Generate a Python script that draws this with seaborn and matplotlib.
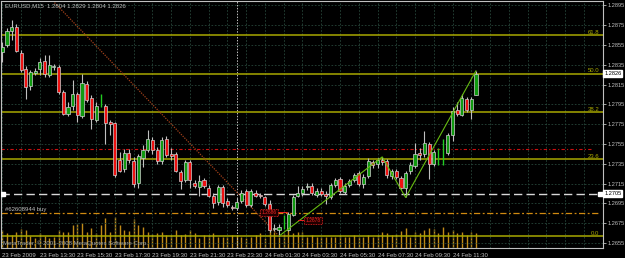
import matplotlib
matplotlib.use("Agg")
import matplotlib.pyplot as plt
from matplotlib.transforms import blended_transform_factory
import seaborn as sns
import numpy as np
import pandas as pd

# ---------------- data ----------------
chart_title = "EURUSD,M15  1.2804 1.2829 1.2804 1.2826"
order_label = "#62608944 buy"
copyright_text = "MetaTrader, \u00a9 2001-2008 MetaQuotes Software Corp."

opens = [1.2848,1.2855,1.2869,1.2873,1.2847,1.2831,1.2814,1.2827,1.2831,1.2839,
         1.2825,1.2833,1.2833,1.2808,1.2785,1.2793,1.2805,1.2783,1.2816,1.2801,
         1.2779,1.2792,1.2793,1.2777,1.2776,1.2739,1.2730,1.2746,1.2738,1.2716,
         1.2741,1.2749,1.2759,1.2749,1.2738,1.2760,1.2745,1.2745,1.2727,1.2719,
         1.2737,1.2716,1.2712,1.2719,1.2711,1.2703,1.2696,1.2712,1.2697,1.2691,
         1.2690,1.2697,1.2708,1.2693,1.2706,1.2704,1.2701,1.2694,1.2669,1.2668,
         1.2669,1.2668,1.2683,1.2703,1.2706,1.2712,1.2713,1.2704,1.2708,1.2705,
         1.2701,1.2714,1.2720,1.2707,1.2714,1.2719,1.2726,1.2715,1.2723,1.2737,
         1.2735,1.2739,1.2738,1.2723,1.2728,1.2721,1.2711,1.2728,1.2733,1.2746,
         1.2745,1.2755,1.2735,1.2734,1.2734,1.2746,1.2764,1.2789,1.2784,1.2800,
         1.2789,1.2804]
highs = [1.2858,1.2872,1.2880,1.2876,1.2850,1.2834,1.2830,1.2832,1.2842,1.2845,
         1.2845,1.2836,1.2835,1.2810,1.2797,1.2820,1.2808,1.2826,1.2819,1.2804,
         1.2797,1.2806,1.2795,1.2779,1.2777,1.2747,1.2750,1.2750,1.2742,1.2745,
         1.2754,1.2769,1.2762,1.2752,1.2762,1.2763,1.2751,1.2747,1.2729,1.2739,
         1.2739,1.2719,1.2724,1.2721,1.2714,1.2706,1.2714,1.2714,1.2700,1.2693,
         1.2700,1.2709,1.2710,1.2710,1.2709,1.2706,1.2703,1.2698,1.2674,1.2674,
         1.2683,1.2686,1.2704,1.2713,1.2713,1.2716,1.2716,1.2711,1.2711,1.2708,
         1.2716,1.2721,1.2722,1.2716,1.2720,1.2726,1.2728,1.2725,1.2741,1.2739,
         1.2741,1.2742,1.2740,1.2730,1.2730,1.2723,1.2728,1.2737,1.2756,1.2751,
         1.2768,1.2757,1.2749,1.2751,1.2760,1.2766,1.2792,1.2797,1.2806,1.2802,
         1.2802,1.2829]
lows = [1.2838,1.2853,1.2860,1.2848,1.2828,1.2800,1.2810,1.2825,1.2825,1.2823,
        1.2823,1.2830,1.2805,1.2784,1.2783,1.2789,1.2777,1.2781,1.2797,1.2770,
        1.2777,1.2792,1.2755,1.2764,1.2722,1.2727,1.2727,1.2736,1.2712,1.2711,
        1.2732,1.2747,1.2745,1.2735,1.2735,1.2742,1.2739,1.2727,1.2710,1.2717,
        1.2711,1.2711,1.2703,1.2711,1.2701,1.2690,1.2693,1.2691,1.2691,1.2688,
        1.2688,1.2695,1.2691,1.2691,1.2701,1.2700,1.2692,1.2666,1.2667,1.2662,
        1.2669,1.2667,1.2682,1.2701,1.2703,1.2709,1.2704,1.2702,1.2703,1.2694,
        1.2699,1.2712,1.2706,1.2705,1.2712,1.2717,1.2713,1.2711,1.2721,1.2731,
        1.2731,1.2734,1.2721,1.2720,1.2720,1.2710,1.2701,1.2725,1.2731,1.2739,
        1.2742,1.2720,1.2733,1.2734,1.2734,1.2744,1.2758,1.2783,1.2783,1.2787,
        1.2780,1.2804]
closes = [1.2853,1.2869,1.2873,1.2849,1.2830,1.2813,1.2828,1.2829,1.2838,1.2826,
          1.2835,1.2833,1.2808,1.2785,1.2792,1.2806,1.2784,1.2817,1.2799,1.2780,
          1.2793,1.2806,1.2776,1.2775,1.2724,1.2728,1.2746,1.2739,1.2715,1.2743,
          1.2749,1.2760,1.2749,1.2738,1.2759,1.2744,1.2743,1.2728,1.2718,1.2737,
          1.2719,1.2713,1.2718,1.2713,1.2703,1.2695,1.2712,1.2695,1.2693,1.2690,
          1.2696,1.2706,1.2693,1.2708,1.2703,1.2703,1.2694,1.2668,1.2670,1.2671,
          1.2683,1.2684,1.2701,1.2706,1.2710,1.2713,1.2706,1.2708,1.2705,1.2703,
          1.2714,1.2719,1.2708,1.2713,1.2718,1.2724,1.2715,1.2722,1.2738,1.2734,
          1.2739,1.2737,1.2724,1.2728,1.2722,1.2711,1.2726,1.2734,1.2745,1.2744,
          1.2756,1.2735,1.2747,1.2751,1.2760,1.2764,1.2788,1.2785,1.2801,1.2789,
          1.2800,1.2826]
volumes = [216,180,156,192,228,216,144,120,180,144,
           120,132,216,192,192,276,288,300,192,240,
           180,276,360,192,372,276,216,204,348,276,
           252,192,168,180,192,156,156,216,156,168,
           216,180,120,156,156,180,132,132,132,156,
           156,132,120,132,156,180,120,240,192,132,
           180,252,180,192,192,132,156,132,132,132,
           132,132,156,132,132,156,132,132,156,132,
           156,192,180,156,168,204,240,132,192,180,
           216,240,228,180,252,192,216,180,192,156,
           192,180]
thin_bars = [21, 60, 93, 94]

time_label_idx = [0, 8, 16, 24, 32, 40, 48, 56, 64, 72, 80, 88, 96]
time_labels = ["23 Feb 2009", "23 Feb 13:30", "23 Feb 15:30", "23 Feb 17:30",
               "23 Feb 19:30", "23 Feb 21:30", "23 Feb 23:30", "24 Feb 01:30",
               "24 Feb 03:30", "24 Feb 05:30", "24 Feb 07:30", "24 Feb 09:30",
               "24 Feb 11:30"]
day_separator_idx = 50

price_ticks = [1.2655, 1.2675, 1.2695, 1.2715, 1.2735, 1.2755, 1.2775,
               1.2795, 1.2815, 1.2835, 1.2855, 1.2875, 1.2895]

fib_levels = [0.0, 23.6, 38.2, 50.0, 61.8]
fib_low, fib_high = 1.2662, 1.2990
fib_anchor_idx = [-7.6, 59]

zigzag_idx = [59, 81, 86, 101]
zigzag_price = [1.2662, 1.2742, 1.2701, 1.2829]

current_price = 1.2826
white_level = 1.2705
orange_level = 1.2685
red_level = 1.2750
label_boxes_idx = [56.8, 66.2]
label_boxes_price = [1.2686, 1.2678]
label_boxes_text = ["1.2686", "1.2678"]

# ---------------- style ----------------
BG = "black"
FG = "#c0c0c0"
GRID = "#27463a"
FIB = "#a8a800"
BULL = "#109a10"
BEAR = "#ee1111"
VOL = "#c08a18"

sns.set_theme(style="dark", rc={"axes.facecolor": BG, "figure.facecolor": BG,
                                "axes.edgecolor": FG, "text.color": FG,
                                "xtick.color": FG, "ytick.color": FG,
                                "axes.grid": False})
plt.rcParams["font.family"] = ["Liberation Sans", "DejaVu Sans"]

W, H = 625, 258
fig = plt.figure(figsize=(W / 100, H / 100), dpi=100)
ax = fig.add_axes([1 / W, 10 / H, 602 / W, 247 / H])
ax2 = ax.twinx()
ax2.set_zorder(ax.get_zorder() - 1)
ax.patch.set_visible(False)

df = pd.DataFrame({"i": np.arange(len(opens)), "open": opens, "high": highs,
                   "low": lows, "close": closes, "volume": volumes})

# volume histogram (bottom)
ax2.vlines(df["i"], 0, df["volume"], color=VOL, lw=1.0)
ax2.set_ylim(0, 2964)
ax2.set_yticks([])
for s in ax2.spines.values():
    s.set_visible(False)

ax.set_xlim(-0.28, 128.08)
ax.set_ylim(1.26500, 1.28994)

# grid
for gx in range(0, 129, 4):
    ax.axvline(gx, color=GRID, lw=0.6, ls=(0, (2, 2)), zorder=0)
for gy in price_ticks:
    ax.axhline(gy, color=GRID, lw=0.6, ls=(0, (2, 2)), zorder=0)

# day separator
ax.axvline(day_separator_idx, color=FG, lw=0.7, ls=(0, (1.5, 1.5)), zorder=1)

# fibonacci
for lv in fib_levels:
    p = fib_low + (fib_high - fib_low) * lv / 100.0
    ax.axhline(p, color=FIB, lw=1.1, zorder=1)
    ax.text(0.994, p + 0.00004, f"{lv:.1f}", transform=blended_transform_factory(ax.transAxes, ax.transData),
            ha="right", va="bottom", fontsize=4.3, color=FIB)
ax.plot(fib_anchor_idx, [fib_high, fib_low], color="#a0401a", lw=0.9, ls=(0, (1, 1)), zorder=1.5)

# trade lines
ax.axhline(red_level, xmax=0.98, color="#cc1010", lw=0.8, ls=(0, (3, 2, 1, 2)), zorder=1.2)
ax.axhline(orange_level, xmax=0.994, color="#d08a10", lw=0.9, ls=(0, (5, 2, 1.5, 2)), zorder=1.2)
ax.axhline(white_level, xmax=0.995, color="#d8d8d8", lw=1.0, ls=(0, (6, 3)), zorder=1.2)
ax.plot([0.15, 127.4], [white_level, white_level], ls="none", marker="s", ms=2.5,
        color="white", zorder=4)

# candles
wick_mask = ~df["i"].isin(thin_bars)
ax.vlines(df.loc[wick_mask, "i"], df.loc[wick_mask, "low"], df.loc[wick_mask, "high"],
          color=FG, lw=0.8, zorder=2.5)
body = df[wick_mask]
bull = body[body["close"] >= body["open"]]
bear = body[body["close"] < body["open"]]
ax.bar(bull["i"], np.maximum(bull["close"] - bull["open"], 0.00008), bottom=bull["open"],
       width=0.66, color=BULL, edgecolor="#d0d0d0", linewidth=0.5, zorder=3)
ax.bar(bear["i"], np.maximum(bear["open"] - bear["close"], 0.00008), bottom=bear["close"],
       width=0.66, color=BEAR, edgecolor="#d0d0d0", linewidth=0.5, zorder=3)
thin = df[df["i"].isin(thin_bars)]
ax.vlines(thin["i"], thin["low"], thin["high"], color="#22cc22", lw=1.0, zorder=3)

# zigzag
sns.lineplot(x=zigzag_idx, y=zigzag_price, ax=ax, color="#66bb11", lw=0.8, zorder=3.5)

# price labels (red boxes)
for bi, bp, bt in zip(label_boxes_idx, label_boxes_price, label_boxes_text):
    ax.text(bi, bp, bt, ha="center", va="center", fontsize=3.6, color="#ee2222", zorder=5,
            bbox=dict(boxstyle="square,pad=0.25", fc="#200000", ec="#ee2222", lw=0.6, ls=(0, (1, 1))))
ax.plot([58.6, 60.8], [label_boxes_price[0]] * 2, color="#ee2222", lw=0.7, zorder=4)
ax.plot([63.0, 64.4], [label_boxes_price[1]] * 2, color="#ee2222", lw=0.7, zorder=4)

# axes / ticks
for s in ax.spines.values():
    s.set_color(FG)
    s.set_linewidth(0.8)
ax.yaxis.tick_right()
ax.set_yticks(price_ticks)
ax.set_yticklabels([f"{p:.4f}" for p in price_ticks])
ax.tick_params(axis="y", length=2.5, width=0.6, pad=1.0, labelsize=4.1, colors=FG)
ax.set_xticks(time_label_idx)
ax.set_xticklabels(time_labels, ha="left")
ax.tick_params(axis="x", length=2.5, width=0.6, pad=0.8, labelsize=4.3, colors=FG)
ax.set_xlabel("")
ax.set_ylabel("")

# current price boxes on the scale
btr = blended_transform_factory(ax.transAxes, ax.transData)
for p in [current_price, white_level]:
    ax.text(1.002, p, f"{p:.4f}", transform=btr, ha="left", va="center", fontsize=4.1,
            color="black", zorder=6,
            bbox=dict(boxstyle="square,pad=0.15", fc="white", ec="white"))

# texts
fig.text(5 / W, 1 - 6 / H, chart_title, ha="left", va="center", fontsize=4.3, color=FG)
fig.text(5 / W, 1 - 209 / H, order_label, ha="left", va="center", fontsize=4.3, color=FG)
fig.text(3 / W, 1 - 243 / H, copyright_text, ha="left", va="center", fontsize=4.3, color="#a8a8a8")

fig.savefig("out.png", dpi=100, facecolor=BG)
